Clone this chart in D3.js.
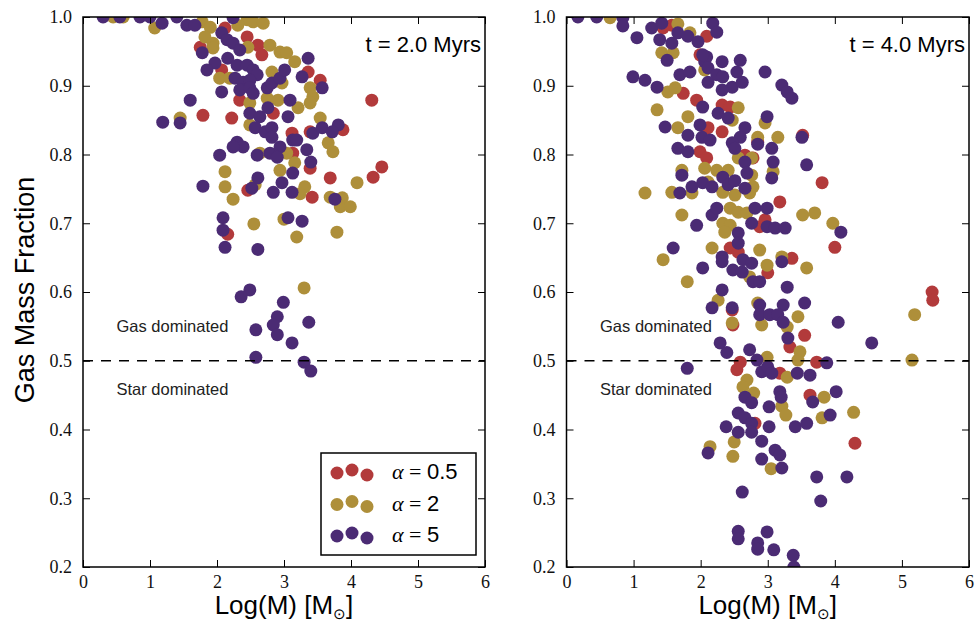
<!DOCTYPE html>
<html><head><meta charset="utf-8">
<script src="https://cdn.jsdelivr.net/npm/d3@7"></script>
<style>body{margin:0;background:#fff}</style>
</head><body><svg id="c" width="975" height="628"></svg>
<script>
const xTickValues=[0,1,2,3,4,5,6];
const yTickValues=[0.2,0.3,0.4,0.5,0.6,0.7,0.8,0.9,1.0];
const panelTitles=["t = 2.0 Myrs","t = 4.0 Myrs"];
const alphaLabels=["0.5","2","5"];
const seriesColors=["#b23a3b","#ae8f3a","#4b2b74"];
const splitLevel=0.5;
const regionLabels=["Gas dominated","Star dominated"];
const regionLabelX=0.5, regionLabelY=[0.542,0.45];

// t = 2.0 Myrs
const left_a05=[[2.12,0.984],[2.45,0.971],[2.61,0.959],[2.67,0.945],[1.75,0.956],[2.07,0.923],[3.36,0.920],[3.54,0.908],[4.31,0.879],[1.79,0.857],[2.22,0.853],[2.34,0.879],[2.84,0.860],[3.12,0.831],[3.39,0.833],[3.88,0.836],[4.46,0.782],[4.33,0.767],[3.69,0.766],[3.39,0.780],[2.46,0.748],[3.42,0.738],[3.13,0.802],[2.16,0.684]];
const left_a2=[[0.45,1.000],[0.60,1.000],[1.07,0.984],[1.78,0.993],[1.90,0.985],[1.82,0.971],[1.94,0.962],[1.94,0.955],[2.45,0.996],[2.54,0.993],[2.69,0.991],[2.31,0.988],[2.79,0.959],[2.94,0.949],[3.04,0.948],[3.16,0.935],[2.46,0.956],[2.82,0.920],[2.97,0.904],[2.04,0.911],[2.19,0.911],[3.39,0.897],[3.43,0.884],[3.39,0.875],[3.21,0.868],[2.91,0.879],[2.75,0.882],[1.45,0.853],[2.49,0.875],[2.49,0.843],[3.54,0.853],[3.66,0.817],[3.73,0.804],[2.94,0.777],[3.16,0.788],[3.04,0.802],[2.64,0.802],[2.12,0.775],[2.12,0.753],[2.57,0.756],[3.31,0.753],[4.09,0.759],[2.24,0.735],[3.69,0.738],[3.87,0.737],[3.24,0.743],[3.84,0.724],[3.99,0.724],[2.55,0.699],[3.00,0.706],[3.19,0.680],[3.79,0.687],[3.30,0.606]];
const left_a5=[[0.30,1.000],[0.55,1.000],[0.85,1.000],[1.00,1.000],[1.18,0.991],[1.40,1.000],[1.55,0.988],[1.67,0.988],[2.24,0.999],[2.07,0.977],[2.15,0.967],[1.78,0.948],[1.97,0.933],[1.85,0.923],[2.24,0.962],[2.34,0.952],[2.16,0.940],[2.30,0.930],[2.45,0.930],[2.54,0.923],[2.60,0.916],[2.27,0.911],[2.39,0.905],[2.49,0.908],[2.34,0.894],[2.49,0.897],[2.54,0.889],[2.75,0.897],[2.82,0.904],[2.94,0.911],[3.01,0.923],[3.27,0.913],[3.36,0.940],[3.57,0.897],[2.07,0.891],[1.60,0.879],[1.19,0.847],[1.45,0.846],[2.49,0.860],[2.64,0.855],[2.76,0.868],[3.09,0.879],[3.06,0.855],[2.57,0.839],[2.72,0.833],[2.82,0.839],[2.82,0.825],[3.13,0.821],[3.43,0.831],[3.57,0.839],[3.81,0.843],[3.72,0.833],[2.30,0.818],[2.39,0.811],[2.24,0.811],[2.04,0.799],[2.60,0.799],[2.79,0.802],[2.94,0.811],[2.90,0.796],[3.19,0.821],[3.34,0.807],[3.40,0.789],[3.13,0.773],[2.61,0.766],[1.79,0.754],[2.52,0.751],[2.84,0.745],[2.97,0.759],[3.12,0.745],[3.76,0.735],[2.09,0.708],[2.09,0.690],[3.06,0.708],[3.27,0.703],[2.12,0.665],[2.61,0.662],[2.49,0.603],[2.36,0.593],[2.99,0.585],[2.90,0.564],[2.84,0.552],[3.37,0.556],[2.58,0.545],[2.90,0.538],[3.12,0.526],[2.58,0.505],[3.30,0.498],[3.40,0.485]];

// t = 4.0 Myrs
const right_a05=[[1.44,0.984],[1.57,0.988],[2.09,0.972],[1.99,0.945],[1.74,0.889],[1.94,0.879],[2.32,0.872],[2.44,0.869],[2.11,0.839],[2.32,0.833],[2.85,0.818],[1.99,0.804],[2.09,0.795],[2.66,0.799],[2.78,0.795],[3.52,0.828],[3.81,0.759],[3.18,0.731],[2.96,0.705],[2.88,0.695],[2.44,0.664],[2.56,0.658],[3.36,0.649],[3.00,0.628],[2.47,0.574],[4.00,0.665],[5.45,0.600],[5.46,0.588],[2.48,0.552],[3.55,0.537],[3.33,0.520],[2.59,0.498],[3.73,0.498],[3.18,0.482],[2.54,0.487],[3.63,0.450],[2.81,0.409],[4.30,0.380]];
const right_a2=[[0.65,0.999],[1.66,0.990],[1.84,0.977],[1.42,0.948],[1.59,0.948],[2.06,0.923],[1.51,0.891],[1.62,0.897],[1.35,0.865],[1.81,0.855],[2.56,0.868],[2.47,0.850],[1.66,0.839],[2.96,0.846],[2.85,0.825],[3.15,0.825],[2.56,0.795],[2.76,0.795],[2.06,0.780],[2.24,0.777],[2.41,0.777],[1.72,0.777],[3.08,0.775],[2.78,0.753],[2.76,0.770],[1.17,0.744],[1.57,0.745],[1.87,0.744],[2.33,0.745],[2.11,0.760],[2.51,0.741],[2.73,0.744],[2.44,0.722],[2.56,0.716],[2.69,0.715],[1.72,0.712],[2.33,0.700],[2.44,0.697],[2.36,0.687],[2.17,0.664],[2.88,0.661],[1.44,0.647],[2.99,0.639],[3.21,0.651],[3.58,0.635],[3.52,0.712],[3.70,0.715],[3.97,0.700],[1.80,0.615],[2.73,0.622],[2.26,0.588],[2.85,0.584],[3.45,0.564],[2.47,0.555],[2.91,0.552],[3.29,0.549],[5.19,0.567],[5.15,0.501],[3.48,0.513],[3.45,0.501],[2.99,0.505],[2.69,0.472],[2.63,0.462],[2.79,0.453],[3.29,0.476],[3.84,0.447],[3.21,0.434],[3.27,0.421],[3.81,0.417],[4.28,0.425],[2.14,0.375],[2.50,0.382],[2.48,0.361],[3.05,0.343]];
const right_a5=[[0.17,1.000],[0.45,1.000],[0.84,0.999],[0.84,0.987],[1.05,0.970],[1.27,0.984],[1.42,0.991],[1.39,0.967],[1.57,0.962],[1.66,0.977],[1.81,0.972],[1.96,0.964],[2.18,0.991],[2.24,0.978],[1.50,0.937],[2.09,0.942],[2.06,0.935],[2.03,0.945],[2.32,0.935],[2.59,0.937],[2.54,0.920],[2.11,0.926],[2.24,0.916],[2.11,0.905],[2.33,0.913],[2.47,0.898],[2.62,0.905],[2.32,0.894],[2.96,0.920],[3.21,0.901],[3.29,0.891],[3.36,0.882],[1.69,0.916],[1.84,0.920],[1.35,0.898],[1.17,0.908],[0.99,0.913],[2.03,0.869],[2.26,0.860],[2.41,0.853],[1.47,0.840],[1.99,0.843],[2.66,0.839],[2.99,0.855],[1.81,0.828],[2.02,0.825],[2.14,0.821],[2.59,0.825],[2.47,0.817],[2.51,0.809],[2.85,0.815],[1.66,0.809],[1.81,0.804],[2.66,0.789],[2.69,0.773],[3.06,0.809],[3.08,0.789],[3.51,0.825],[3.58,0.785],[3.06,0.766],[1.72,0.770],[2.03,0.759],[2.17,0.753],[2.33,0.767],[2.41,0.756],[2.51,0.762],[2.66,0.751],[1.69,0.744],[1.87,0.753],[1.94,0.697],[2.17,0.712],[2.24,0.722],[2.81,0.722],[2.99,0.722],[2.76,0.700],[2.99,0.695],[3.11,0.693],[3.26,0.693],[2.56,0.686],[2.56,0.671],[1.59,0.664],[2.32,0.651],[2.32,0.644],[2.63,0.647],[2.76,0.642],[2.48,0.632],[2.62,0.629],[3.21,0.644],[2.03,0.635],[2.78,0.615],[2.88,0.615],[2.32,0.603],[3.29,0.607],[2.17,0.577],[2.47,0.577],[2.88,0.581],[3.23,0.581],[3.55,0.584],[2.88,0.567],[3.03,0.567],[3.15,0.567],[3.23,0.556],[4.05,0.556],[4.09,0.687],[3.30,0.533],[2.29,0.526],[2.39,0.512],[2.73,0.516],[2.84,0.501],[3.88,0.497],[4.55,0.526],[1.80,0.489],[2.91,0.484],[3.00,0.491],[3.06,0.482],[3.44,0.482],[3.63,0.479],[2.66,0.447],[2.76,0.439],[3.18,0.455],[3.20,0.447],[3.02,0.433],[3.67,0.440],[4.02,0.455],[2.56,0.424],[2.66,0.417],[2.76,0.409],[2.38,0.404],[2.56,0.396],[2.76,0.396],[3.02,0.404],[3.41,0.404],[3.58,0.409],[3.93,0.421],[2.91,0.383],[2.11,0.366],[3.11,0.370],[3.18,0.363],[2.91,0.357],[3.21,0.344],[3.73,0.331],[4.18,0.331],[2.62,0.309],[3.79,0.296],[2.56,0.252],[2.56,0.241],[2.99,0.251],[2.85,0.235],[2.85,0.226],[3.09,0.225],[3.38,0.217],[3.39,0.200]];

const panels=[
  {x0:83,x1:485,title:panelTitles[0],series:[left_a05,left_a2,left_a5],legend:true,id:"L"},
  {x0:566.5,x1:969,title:panelTitles[1],series:[right_a05,right_a2,right_a5],legend:false,id:"R"}
];
const yTop=17,yBot=567,R=6.5;
const svg=d3.select("#c");
const serif="'Liberation Serif','DejaVu Serif',serif";
const sans="'Liberation Sans',Arial,sans-serif";

panels.forEach(p=>{
  const x=d3.scaleLinear().domain([0,6]).range([p.x0,p.x1]);
  const y=d3.scaleLinear().domain([0.2,1.0]).range([yBot,yTop]);
  const g=svg.append("g");
  g.append("clipPath").attr("id","clip"+p.id).append("rect")
    .attr("x",p.x0).attr("y",yTop).attr("width",p.x1-p.x0).attr("height",yBot-yTop);
  const pts=g.append("g").attr("clip-path","url(#clip"+p.id+")");
  p.series.forEach((s,i)=>{
    pts.append("g").selectAll("circle").data(s).join("circle")
      .attr("cx",d=>x(d[0])).attr("cy",d=>y(d[1])).attr("r",R)
      .attr("fill",seriesColors[i]);
  });
  // dashed split line
  g.append("line").attr("x1",x(0)).attr("x2",x(6)).attr("y1",y(splitLevel)).attr("y2",y(splitLevel))
    .attr("stroke","#000").attr("stroke-width",1.5).attr("stroke-dasharray","10,8");
  regionLabels.forEach((t,i)=>{
    g.append("text").attr("x",x(regionLabelX)).attr("y",y(regionLabelY[i]))
      .attr("font-family",sans).attr("font-size",16.5).attr("fill","#222").text(t);
  });
  g.append("text").attr("x",x(6)-4).attr("y",52).attr("text-anchor","end")
    .attr("font-family",sans).attr("font-size",22).attr("fill","#000").text(p.title);
  // axes
  const tickStyle=sel=>{sel.select(".domain").remove();sel.selectAll(".tick line").attr("stroke","#000").attr("stroke-width",1);
    sel.selectAll(".tick text").attr("font-family",serif).attr("font-size",18).attr("fill","#111");};
  g.append("g").attr("transform",`translate(0,${yBot})`)
    .call(d3.axisBottom(x).tickValues(xTickValues).tickSize(-7).tickPadding(8).tickFormat(d3.format("d"))).call(tickStyle);
  g.append("g").attr("transform",`translate(0,${yTop})`)
    .call(d3.axisTop(x).tickValues(xTickValues).tickSize(-7).tickFormat("")).call(tickStyle);
  g.append("g").attr("transform",`translate(${p.x0},0)`)
    .call(d3.axisLeft(y).tickValues(yTickValues).tickSize(-7).tickPadding(11).tickFormat(d3.format(".1f"))).call(tickStyle);
  g.append("g").attr("transform",`translate(${p.x1},0)`)
    .call(d3.axisRight(y).tickValues(yTickValues).tickSize(-7).tickFormat("")).call(tickStyle);
  g.append("rect").attr("x",p.x0).attr("y",yTop).attr("width",p.x1-p.x0).attr("height",yBot-yTop)
    .attr("fill","none").attr("stroke","#000").attr("stroke-width",1.5);
  // x label
  const xl=g.append("text").attr("x",(p.x0+p.x1)/2).attr("y",614).attr("text-anchor","middle")
    .attr("font-family",sans).attr("font-size",26).attr("fill","#000");
  xl.append("tspan").text("Log(M) [M");
  xl.append("tspan").attr("font-size",15).attr("dy",5).text("⊙");
  xl.append("tspan").attr("dy",-5).text("]");
  if(p.legend){
    const lx=321,ly=453,lw=155,lh=102;
    const lg=g.append("g");
    lg.append("rect").attr("x",lx).attr("y",ly).attr("width",lw).attr("height",lh)
      .attr("fill","#fff").attr("stroke","#000").attr("stroke-width",1.5);
    const offs=[1,-2,3];
    alphaLabels.forEach((lab,i)=>{
      const cy=ly+19+i*31.5;
      offs.forEach((o,k)=>lg.append("circle").attr("cx",lx+16+k*15).attr("cy",cy+o).attr("r",R).attr("fill",seriesColors[i]));
      const t=lg.append("text").attr("x",lx+71).attr("y",cy+7).attr("font-size",22).attr("fill","#000");
      t.append("tspan").attr("font-family",serif).attr("font-style","italic").text("α");
      t.append("tspan").attr("font-family",serif).text(" = ");
      t.append("tspan").attr("font-family",sans).text(lab);
    });
  }
});
svg.append("text").attr("transform","translate(34,290) rotate(-90)").attr("text-anchor","middle")
  .attr("font-family",sans).attr("font-size",27).attr("fill","#000").text("Gas Mass Fraction");
</script></body></html>
